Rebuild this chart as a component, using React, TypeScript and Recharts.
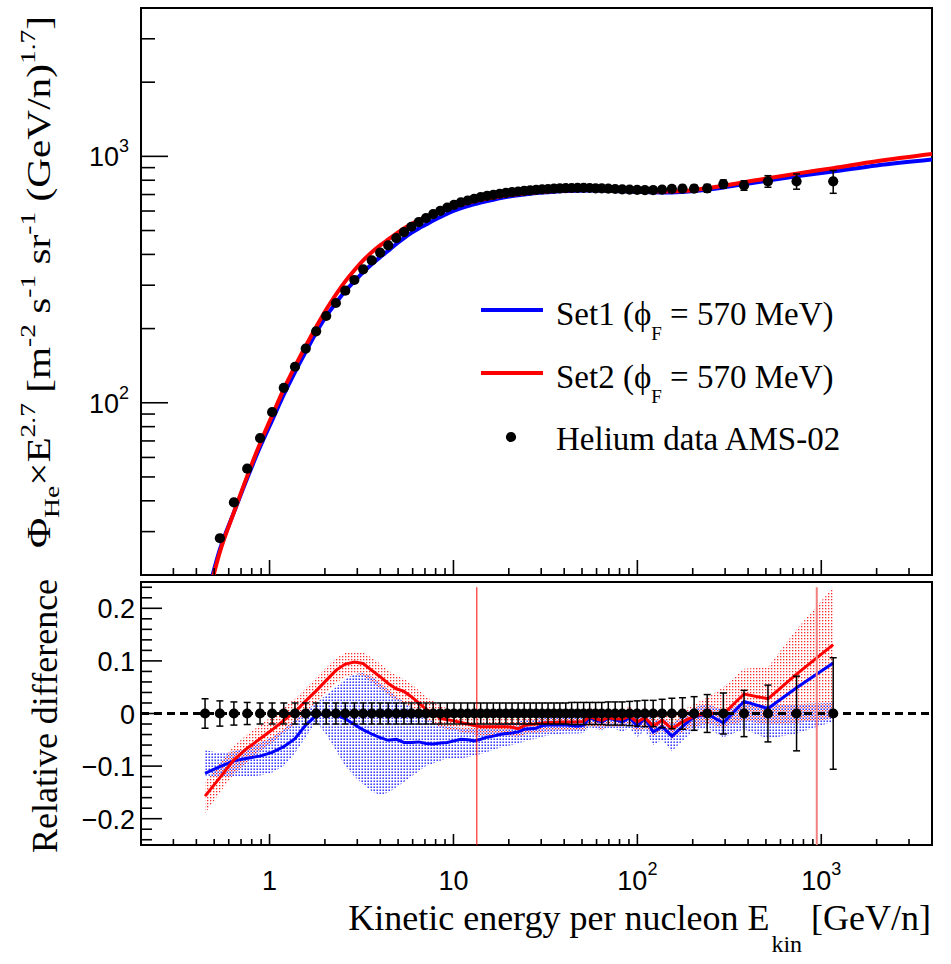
import React from 'react';
import {
  ComposedChart, Line, Scatter, Area, XAxis, YAxis, ErrorBar,
  ReferenceLine, ReferenceArea, Legend, Label,
} from 'recharts';

const SANS = '"Liberation Sans", Arial, Helvetica, sans-serif';
const SERIF = '"Liberation Serif", "Times New Roman", Times, serif';

// ---- AMS-02 helium data (kinetic energy per nucleon, GeV/n) ----
const energies = [
  0.446, 0.537, 0.640, 0.756, 0.888, 1.033, 1.195, 1.375, 1.573, 1.792,
  2.033, 2.295, 2.580, 2.892, 3.230, 3.596, 3.993, 4.420, 4.888, 5.382,
  5.902, 6.471, 7.091, 7.761, 8.481, 9.253, 10.07, 10.97, 11.94, 12.97,
  14.06, 15.23, 16.48, 17.83, 19.28, 20.82, 22.47, 24.24, 26.14, 28.16,
  30.34, 32.68, 35.21, 37.90, 40.80, 43.92, 47.30, 51.04, 55.04, 59.28,
  64.03, 69.50, 75.75, 82.74, 90.73, 99.71, 109.9, 121.9, 136.3, 154.0,
  175.9, 203.5, 239.7, 293.4, 380.1, 512.9, 733.9, 1161,
];
const heFlux = [
  17, 28.2, 39.4, 54.0, 71.9, 91.6, 115, 140, 166, 195,
  225, 254, 285, 315, 348, 378, 407, 435, 466, 493,
  518, 541, 561, 583, 601, 620, 636, 650, 662, 673,
  683, 691, 698, 705, 711, 716, 720, 724, 728, 731,
  734, 737, 739, 741, 743, 744, 745, 745, 744, 742,
  741, 739, 737, 735, 733, 731, 729, 730, 733, 738,
  740, 740, 742, 772, 762, 792, 792, 792,
];
const relErr = [
  0.028, 0.024, 0.022, 0.021, 0.020, 0.020, 0.020, 0.020, 0.020, 0.020,
  0.020, 0.020, 0.020, 0.020, 0.020, 0.020, 0.020, 0.020, 0.020, 0.020,
  0.020, 0.020, 0.020, 0.020, 0.020, 0.020, 0.020, 0.020, 0.020, 0.020,
  0.020, 0.020, 0.020, 0.020, 0.020, 0.020, 0.020, 0.020, 0.020, 0.020,
  0.020, 0.020, 0.020, 0.020, 0.020, 0.021, 0.021, 0.021, 0.021, 0.021,
  0.021, 0.022, 0.022, 0.022, 0.023, 0.024, 0.025, 0.025, 0.027, 0.029,
  0.030, 0.032, 0.036, 0.039, 0.044, 0.054, 0.071, 0.106,
];

// ---- relative difference (model - data)/data at data points ----
const set1Diff = [
  -0.114, -0.101, -0.090, -0.085, -0.081, -0.074, -0.063, -0.048, -0.022, -0.004,
  0.000, -0.002, -0.010, -0.021, -0.031, -0.039, -0.046, -0.051, -0.049, -0.055,
  -0.055, -0.054, -0.057, -0.058, -0.056, -0.055, -0.052, -0.049, -0.050, -0.052,
  -0.049, -0.045, -0.043, -0.040, -0.038, -0.037, -0.035, -0.030, -0.029, -0.028,
  -0.023, -0.022, -0.022, -0.022, -0.022, -0.023, -0.024, -0.022, -0.008, -0.013,
  -0.016, -0.009, -0.012, -0.016, -0.008, -0.024, -0.009, -0.035, -0.025, -0.043,
  -0.025, -0.006, -0.001, -0.018, 0.023, 0.0095, 0.049, 0.096,
];
const set2Diff = [
  -0.157, -0.122, -0.088, -0.066, -0.048, -0.031, -0.013, 0.003, 0.024, 0.043,
  0.063, 0.082, 0.094, 0.098, 0.095, 0.082, 0.070, 0.057, 0.047, 0.042,
  0.032, 0.020, 0.008, 0.001, -0.009, -0.012, -0.014, -0.017, -0.020, -0.023,
  -0.025, -0.025, -0.025, -0.025, -0.025, -0.026, -0.029, -0.023, -0.021, -0.020,
  -0.018, -0.017, -0.017, -0.016, -0.016, -0.016, -0.016, -0.015, -0.006, -0.010,
  -0.013, -0.008, -0.010, -0.011, -0.005, -0.016, -0.008, -0.024, -0.013, -0.029,
  -0.016, -0.005, 0.001, -0.001, 0.037, 0.028, 0.075, 0.131,
];
const set1BandLo = [
  -0.118, -0.120, -0.120, -0.120, -0.118, -0.112, -0.100, -0.075, -0.045, -0.015,
  -0.040, -0.070, -0.100, -0.120, -0.135, -0.148, -0.155, -0.150, -0.140, -0.130,
  -0.120, -0.110, -0.100, -0.095, -0.090, -0.085, -0.085, -0.085, -0.083, -0.080,
  -0.077, -0.073, -0.069, -0.065, -0.062, -0.060, -0.057, -0.053, -0.050, -0.048,
  -0.044, -0.042, -0.040, -0.039, -0.038, -0.038, -0.038, -0.037, -0.026, -0.030,
  -0.032, -0.027, -0.030, -0.034, -0.028, -0.045, -0.032, -0.060, -0.050, -0.072,
  -0.052, -0.032, -0.028, -0.045, -0.030, -0.048, -0.038, -0.015,
];
const set1BandHi = [
  -0.070, -0.075, -0.072, -0.065, -0.055, -0.045, -0.030, -0.012, 0.005, 0.020,
  0.035, 0.050, 0.065, 0.075, 0.077, 0.070, 0.058, 0.045, 0.032, 0.022,
  0.012, 0.002, -0.008, -0.015, -0.020, -0.025, -0.026, -0.027, -0.027, -0.027,
  -0.026, -0.024, -0.022, -0.020, -0.018, -0.017, -0.016, -0.012, -0.012, -0.010,
  -0.008, -0.007, -0.007, -0.007, -0.007, -0.008, -0.008, -0.008, 0.005, 0.000,
  -0.002, 0.005, 0.002, -0.002, 0.006, -0.006, 0.008, -0.015, -0.006, -0.020,
  -0.004, 0.012, 0.018, 0.006, 0.020, 0.015, 0.018, 0.020,
];
const set2BandLo = [
  -0.190, -0.150, -0.115, -0.092, -0.072, -0.055, -0.037, -0.020, 0.000, 0.020,
  0.040, 0.058, 0.070, 0.075, 0.072, 0.060, 0.048, 0.035, 0.025, 0.020,
  0.010, 0.000, -0.012, -0.018, -0.026, -0.030, -0.032, -0.035, -0.038, -0.040,
  -0.042, -0.042, -0.042, -0.042, -0.042, -0.043, -0.046, -0.040, -0.038, -0.037,
  -0.035, -0.034, -0.034, -0.033, -0.033, -0.033, -0.033, -0.032, -0.023, -0.027,
  -0.030, -0.025, -0.027, -0.028, -0.022, -0.035, -0.027, -0.043, -0.032, -0.048,
  -0.035, -0.025, -0.020, -0.025, -0.015, -0.020, -0.018, -0.010,
];
const set2BandHi = [
  -0.130, -0.095, -0.062, -0.040, -0.022, -0.005, 0.012, 0.028, 0.048, 0.068,
  0.088, 0.105, 0.115, 0.118, 0.116, 0.106, 0.095, 0.082, 0.072, 0.066,
  0.056, 0.044, 0.032, 0.024, 0.014, 0.010, 0.006, 0.003, 0.000, -0.004,
  -0.007, -0.007, -0.007, -0.007, -0.007, -0.008, -0.011, -0.005, -0.003, -0.002,
  0.000, 0.001, 0.001, 0.002, 0.002, 0.002, 0.002, 0.003, 0.012, 0.008,
  0.005, 0.010, 0.008, 0.007, 0.013, 0.004, 0.012, -0.004, 0.007, -0.008,
  0.005, 0.018, 0.030, 0.050, 0.085, 0.088, 0.160, 0.240,
];

// ---- model curves (upper panel) ----
const modelE = [
  0.446, 0.537, 0.640, 0.756, 0.888, 1.033, 1.195, 1.375, 1.573, 1.792,
  2.033, 2.295, 2.580, 2.892, 3.230, 3.596, 3.993, 4.420, 4.888, 5.382,
  5.902, 6.471, 7.091, 7.761, 8.481, 9.253, 10.07, 11.94, 14.06, 16.48,
  19.28, 22.47, 26.14, 30.34, 35.2, 40.8, 47.3, 55.0, 64.0, 75.7,
  90.7, 110, 136, 154, 176, 203.5, 240, 293, 380, 513,
  734, 1161, 2000, 4000,
];
const set1Model = [
  15.2, 25.4, 35.9, 49.4, 66.1, 84.8, 107.8, 133.3, 161, 192.5,
  224.5, 254, 284, 311, 339, 365, 390, 414, 441, 466,
  489, 510, 529, 549, 567, 585, 602, 629, 649, 667,
  683, 695, 705, 713, 719, 723, 725, 726, 726, 724,
  720, 716, 714, 714, 717, 723, 733, 748, 771, 798,
  830, 868, 918, 970,
];
const set2Model = [
  14.5, 24.8, 35.9, 50.4, 68.4, 88.8, 113.5, 140.4, 170, 203,
  239, 275, 311, 345, 378, 408, 435, 460, 486, 510,
  531, 550, 566, 582, 596, 611, 625, 648, 666, 681,
  693, 703, 712, 719, 724, 728, 730, 731, 730, 728,
  725, 722, 720, 721, 724, 731, 742, 760, 785, 815,
  851, 896, 955, 1022,
];

// ---- axes ----
const xTicks = [
  0.3, 0.4, 0.5, 0.6, 0.7, 0.8, 0.9, 1, 2, 3, 4, 5, 6, 7, 8, 9,
  10, 20, 30, 40, 50, 60, 70, 80, 90, 100, 200, 300, 400, 500, 600, 700, 800, 900,
  1000, 2000, 3000,
];
const xMajorTicks = [1, 10, 100, 1000];
const xLabelBase = ['1', '10', '10', '10'];
const xLabelExp = ['', '', '2', '3'];

const upperYTicks = [
  20, 30, 40, 50, 60, 70, 80, 90, 100, 200, 300, 400, 500, 600, 700, 800, 900,
  1000, 2000, 3000,
];
const upperYMajor = [100, 1000];
const upperYExp = ['2', '3'];

const lowerYTicks = [
  -0.24, -0.22, -0.2, -0.18, -0.16, -0.14, -0.12, -0.1, -0.08, -0.06, -0.04, -0.02,
  0, 0.02, 0.04, 0.06, 0.08, 0.1, 0.12, 0.14, 0.16, 0.18, 0.2, 0.22, 0.24,
];
const lowerYMajor = [-0.2, -0.1, 0, 0.1, 0.2];
const lowerYLabels = ['\u22120.2', '\u22120.1', '0', '0.1', '0.2'];

const markerLinesE = [13.4, 945];

const dataRows = energies.map((e, i) => ({
  e,
  flux: heFlux[i],
  fluxErr: heFlux[i] * relErr[i],
  zero: 0,
  relErr: relErr[i],
  set1: set1Diff[i],
  set2: set2Diff[i],
  band1: [set1BandLo[i], set1BandHi[i]],
  band2: [set2BandLo[i], set2BandHi[i]],
}));
const modelRows = modelE.map((e, i) => ({ e, set1: set1Model[i], set2: set2Model[i] }));

const BLUE = '#0000ff';
const RED = '#ff0000';

const makeXTick = (majorLen: number, minorLen: number, withLabels: boolean) => (props: any) => {
  const { x, y, payload } = props;
  const v = payload.value;
  const mi = xMajorTicks.indexOf(v);
  const len = mi >= 0 ? majorLen : minorLen;
  return (
    <g>
      <line x1={x} x2={x} y1={y} y2={y - len} stroke="#000" strokeWidth={1.6} />
      {withLabels && mi >= 0 && (
        <text x={x} y={y + 45} textAnchor="middle" fontFamily={SANS} fontSize={27} fill="#000">
          {xLabelBase[mi]}
          {xLabelExp[mi] ? <tspan dy={-15} fontSize={18}>{xLabelExp[mi]}</tspan> : null}
        </text>
      )}
    </g>
  );
};

const upperYTick = (props: any) => {
  const { x, y, payload } = props;
  const v = payload.value;
  const mi = upperYMajor.indexOf(v);
  const len = mi >= 0 ? 27 : 14;
  return (
    <g>
      <line x1={x} x2={x + len} y1={y} y2={y} stroke="#000" strokeWidth={1.6} />
      {mi >= 0 && (
        <text x={x - 12} y={y + 10} textAnchor="end" fontFamily={SANS} fontSize={27} fill="#000">
          10<tspan dy={-14} fontSize={18}>{upperYExp[mi]}</tspan>
        </text>
      )}
    </g>
  );
};

const lowerYTick = (props: any) => {
  const { x, y, payload } = props;
  const v = payload.value;
  const mi = lowerYMajor.indexOf(v);
  const len = mi >= 0 ? 21 : 11;
  return (
    <g>
      <line x1={x} x2={x + len} y1={y} y2={y} stroke="#000" strokeWidth={1.6} />
      {mi >= 0 && (
        <text x={x - 6} y={y + 10} textAnchor="end" fontFamily={SANS} fontSize={27} fill="#000">
          {lowerYLabels[mi]}
        </text>
      )}
    </g>
  );
};

const dotShape = (props: any) => <circle cx={props.cx} cy={props.cy} r={5.1} fill="#000" />;

const UpperYTitle = () => (
  <text transform="translate(50,282) rotate(-90) scale(1.25,1)" textAnchor="middle" fontFamily={SERIF} fontSize={33} fill="#000">
    Φ<tspan dy={9} fontSize={22}>He</tspan>
    <tspan dy={-9}>×E</tspan>
    <tspan dy={-15} fontSize={22}>2.7</tspan>
    <tspan dy={15}>{' [m'}</tspan>
    <tspan dy={-15} fontSize={22}>-2</tspan>
    <tspan dy={15}>{' s'}</tspan>
    <tspan dy={-15} fontSize={22}>-1</tspan>
    <tspan dy={15}>{' sr'}</tspan>
    <tspan dy={-15} fontSize={22}>-1</tspan>
    <tspan dy={15}>{' (GeV/n)'}</tspan>
    <tspan dy={-15} fontSize={22}>1.7</tspan>
    <tspan dy={15}>]</tspan>
  </text>
);

const LowerYTitle = () => (
  <text transform="translate(57,141) rotate(-90)" textAnchor="middle" fontFamily={SERIF} fontSize={36} fill="#000">
    Relative difference
  </text>
);

const XTitle = () => (
  <text x={931} y={355} textAnchor="end" fontFamily={SERIF} fontSize={36} fill="#000">
    Kinetic energy per nucleon E
    <tspan dy={22} dx={2} fontSize={24}>kin</tspan>
    <tspan dy={-22}>{' [GeV/n]'}</tspan>
  </text>
);

const LegendBox = () => (
  <svg width={420} height={185} style={{ overflow: 'visible', display: 'block' }}>
    <line x1={11} x2={73} y1={25} y2={25} stroke={BLUE} strokeWidth={4} />
    <text x={86} y={40} fontFamily={SERIF} fontSize={33} fill="#000">
      Set1 (ϕ<tspan dy={15} fontSize={19}>F</tspan>
      <tspan dy={-15}>{' = 570 MeV)'}</tspan>
    </text>
    <line x1={11} x2={73} y1={88} y2={88} stroke={RED} strokeWidth={4} />
    <text x={86} y={103} fontFamily={SERIF} fontSize={33} fill="#000">
      Set2 (ϕ<tspan dy={15} fontSize={19}>F</tspan>
      <tspan dy={-15}>{' = 570 MeV)'}</tspan>
    </text>
    <circle cx={41} cy={152} r={5.1} fill="#000" />
    <text x={86} y={165} fontFamily={SERIF} fontSize={33} fill="#000">
      Helium data AMS-02
    </text>
  </svg>
);

export default function App() {
  return (
    <div style={{ position: 'absolute', left: 0, top: 0, width: 951, height: 964, background: '#fff' }}>
      <div style={{ position: 'absolute', left: 0, top: 0 }}>
        <ComposedChart width={951} height={583} margin={{ top: 8, right: 19, bottom: 0, left: 0 }}>
          <XAxis
            dataKey="e" type="number" scale="log" domain={[0.2, 4000]} allowDataOverflow
            ticks={xTicks} interval={0} tickSize={0} tickMargin={0} tickLine={false} axisLine={false}
            height={8} tick={makeXTick(15, 7, false)}
          />
          <YAxis
            type="number" scale="log" domain={[20, 4000]} allowDataOverflow
            ticks={upperYTicks} interval={0} tickSize={0} tickMargin={0} tickLine={false} axisLine={false}
            width={141} tick={upperYTick}
          >
            <Label content={UpperYTitle} />
          </YAxis>
          <Line data={modelRows} dataKey="set1" type="monotone" stroke={BLUE} strokeWidth={4} dot={false} activeDot={false} isAnimationActive={false} />
          <Line data={modelRows} dataKey="set2" type="monotone" stroke={RED} strokeWidth={4} dot={false} activeDot={false} isAnimationActive={false} />
          <Scatter data={dataRows} dataKey="flux" shape={dotShape} isAnimationActive={false}>
            <ErrorBar dataKey="fluxErr" direction="y" width={3.5} stroke="#000" strokeWidth={1.5} isAnimationActive={false} />
          </Scatter>
          <ReferenceArea x1={0.2} x2={4000} y1={20} y2={4000} fill="none" stroke="#000" strokeWidth={2} ifOverflow="visible" />
          <Legend
            layout="vertical" align="center" verticalAlign="middle"
            wrapperStyle={{ left: 470, top: 285, width: 420, height: 185 }}
            content={LegendBox}
          />
        </ComposedChart>
      </div>
      <div style={{ position: 'absolute', left: 0, top: 575 }}>
        <ComposedChart width={951} height={389} data={dataRows} margin={{ top: 7, right: 19, bottom: 0, left: 0 }}>
          <defs>
            <pattern id="dotRed" width={3} height={3} patternUnits="userSpaceOnUse">
              <rect x={0} y={0} width={1.3} height={1.3} fill={RED} fillOpacity={0.85} />
            </pattern>
            <pattern id="dotBlue" width={3} height={3} patternUnits="userSpaceOnUse">
              <rect x={1.5} y={1.5} width={1.4} height={1.4} fill={BLUE} fillOpacity={0.95} />
            </pattern>
          </defs>
          <XAxis
            dataKey="e" type="number" scale="log" domain={[0.2, 4000]} allowDataOverflow
            ticks={xTicks} interval={0} tickSize={0} tickMargin={0} tickLine={false} axisLine={false}
            height={119} tick={makeXTick(11, 6, true)}
          >
            <Label content={XTitle} />
          </XAxis>
          <YAxis
            type="number" domain={[-0.25, 0.25]} allowDataOverflow
            ticks={lowerYTicks} interval={0} tickSize={0} tickMargin={0} tickLine={false} axisLine={false}
            width={141} tick={lowerYTick}
          >
            <Label content={LowerYTitle} />
          </YAxis>
          <Area dataKey="band1" type="linear" stroke="none" fill="url(#dotBlue)" fillOpacity={1} dot={false} activeDot={false} isAnimationActive={false} />
          <Area dataKey="band2" type="linear" stroke="none" fill="url(#dotRed)" fillOpacity={1} dot={false} activeDot={false} isAnimationActive={false} />
          <Line dataKey="set1" type="linear" stroke={BLUE} strokeWidth={3} dot={false} activeDot={false} isAnimationActive={false} />
          <Line dataKey="set2" type="linear" stroke={RED} strokeWidth={3} dot={false} activeDot={false} isAnimationActive={false} />
          <ReferenceLine y={0} stroke="#000" strokeWidth={3} strokeDasharray="8 5" />
          <Scatter dataKey="zero" shape={dotShape} isAnimationActive={false}>
            <ErrorBar dataKey="relErr" direction="y" width={3.5} stroke="#000" strokeWidth={1.5} isAnimationActive={false} />
          </Scatter>
          <ReferenceLine segment={[{ x: markerLinesE[0], y: 0.24 }, { x: markerLinesE[0], y: -0.25 }]} stroke={RED} strokeWidth={1} />
          <ReferenceLine segment={[{ x: markerLinesE[1], y: 0.24 }, { x: markerLinesE[1], y: -0.25 }]} stroke="#f37f7f" strokeWidth={2} />
          <ReferenceArea x1={0.2} x2={4000} y1={-0.25} y2={0.25} fill="none" stroke="#000" strokeWidth={2} ifOverflow="visible" />
        </ComposedChart>
      </div>
    </div>
  );
}
